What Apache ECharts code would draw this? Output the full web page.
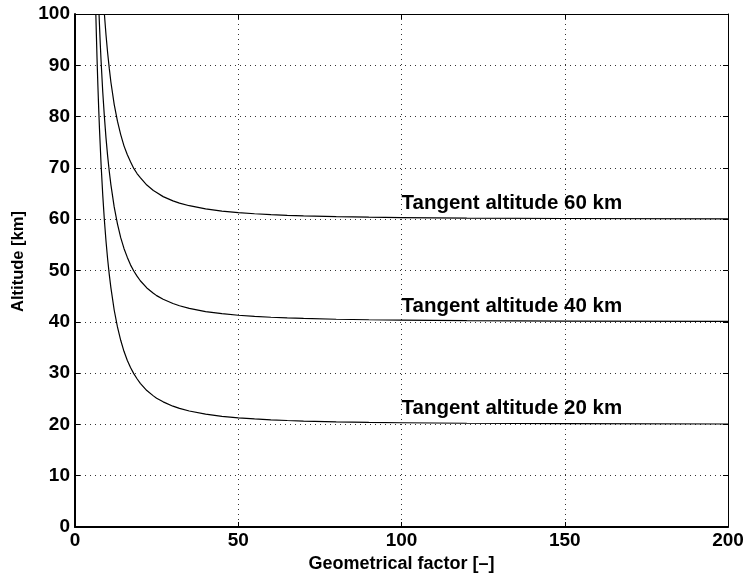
<!DOCTYPE html>
<html>
<head>
<meta charset="utf-8">
<script src="https://cdn.jsdelivr.net/npm/echarts@6/dist/echarts.min.js"></script>
<style>
html,body{margin:0;padding:0;background:#fff;}
#chart{width:747px;height:583px;}
</style>
</head>
<body>
<div id="chart"></div>
<script>
// Data
var xTicks = [0, 50, 100, 150, 200];
var yTicks = [0, 10, 20, 30, 40, 50, 60, 70, 80, 90, 100];

var factor20 = [6.38, 6.5, 6.75, 7, 7.25, 7.5, 8, 8.5, 9, 9.5, 10, 10.5, 11, 12, 13, 14, 15, 16, 17, 18, 19, 20, 22, 24, 25, 27, 30, 32, 35, 40, 45, 50, 55, 60, 65, 70, 80, 90, 100, 120, 150, 200];
var alt20    = [100, 97.0, 91.3, 86.2, 81.7, 77.6, 70.5, 64.7, 59.8, 55.7, 52.2, 49.2, 46.6, 42.3, 39.0, 36.4, 34.25, 32.5, 31.1, 29.9, 28.9, 28.0, 26.6, 25.56, 25.1, 24.4, 23.55, 23.12, 22.61, 22.0, 21.58, 21.28, 21.06, 20.89, 20.76, 20.65, 20.5, 20.39, 20.32, 20.22, 20.14, 20.08];

var factor40 = [7.36, 7.5, 7.75, 8, 8.5, 9, 9.5, 10, 10.5, 11, 12, 13, 14, 15, 16, 17, 18, 19, 20, 22, 24, 25, 27, 30, 32, 35, 40, 45, 50, 55, 60, 65, 70, 80, 90, 100, 120, 150, 200];
var alt40    = [100, 97.8, 94.0, 90.7, 84.8, 80.0, 75.8, 72.3, 69.3, 66.7, 62.4, 59.1, 56.4, 54.3, 52.6, 51.1, 49.9, 48.9, 48.0, 46.6, 45.57, 45.1, 44.4, 43.56, 43.13, 42.62, 42.0, 41.58, 41.28, 41.06, 40.89, 40.76, 40.65, 40.5, 40.4, 40.32, 40.22, 40.14, 40.08];

var factor60 = [9.0, 9.5, 10, 10.5, 11, 12, 13, 14, 15, 16, 17, 18, 19, 20, 22, 24, 25, 27, 30, 32, 35, 40, 45, 50, 55, 60, 65, 70, 80, 90, 100, 120, 150, 200];
var alt60    = [100, 95.9, 92.4, 89.4, 86.7, 82.4, 79.1, 76.5, 74.3, 72.6, 71.2, 69.9, 68.9, 68.1, 66.65, 65.6, 65.2, 64.4, 63.58, 63.14, 62.63, 62.01, 61.59, 61.29, 61.06, 60.89, 60.76, 60.66, 60.5, 60.4, 60.32, 60.22, 60.14, 60.08];

var labelTexts = ['Tangent altitude 60 km', 'Tangent altitude 40 km', 'Tangent altitude 20 km'];
var labelX = [100, 100, 100];
var labelY = [63.1, 43.1, 23.1];

function pairs(xs, ys) {
  var out = [];
  for (var i = 0; i < xs.length; i++) out.push([xs[i], ys[i]]);
  return out;
}

var FONT = 'Liberation Sans';
var chart = echarts.init(document.getElementById('chart'), null, {renderer: 'canvas'});

var gridLine = {show: true, lineStyle: {color: '#333', width: 1, type: [1, 4]}};
var tickStyle = {show: true, inside: true, length: 5, lineStyle: {color: '#000', width: 1}};

function curve(xs, ys) {
  return {
    type: 'line',
    xAxisIndex: 0, yAxisIndex: 0,
    data: pairs(xs, ys),
    showSymbol: false,
    smooth: false,
    lineStyle: {color: '#000', width: 1.2},
    silent: true,
    z: 5
  };
}

var labelData = [];
for (var i = 0; i < labelTexts.length; i++) {
  labelData.push({value: [labelX[i], labelY[i]], name: labelTexts[i]});
}

chart.setOption({
  animation: false,
  backgroundColor: '#fff',
  grid: {left: 75, right: 19, top: 14, bottom: 56, containLabel: false},
  xAxis: [{
    type: 'value', min: 0, max: 200, interval: 50,
    name: 'Geometrical factor [\u2013]',
    nameLocation: 'middle', nameGap: 25,
    nameTextStyle: {fontFamily: FONT, fontWeight: 'bold', fontSize: 18, color: '#000'},
    axisLine: {show: true, onZero: false, lineStyle: {color: '#000', width: 2}},
    axisTick: tickStyle,
    axisLabel: {fontFamily: FONT, fontWeight: 'bold', fontSize: 19, color: '#000', margin: 4,
      formatter: function (v) { return xTicks.indexOf(v) >= 0 ? String(v) : ''; }},
    splitLine: gridLine
  }, {
    type: 'value', min: 0, max: 200, interval: 50, position: 'top',
    axisLine: {show: true, onZero: false, lineStyle: {color: '#000', width: 1}},
    axisTick: tickStyle, axisLabel: {show: false}, splitLine: {show: false}
  }],
  yAxis: [{
    type: 'value', min: 0, max: 100, interval: 10,
    name: 'Altitude [km]',
    nameLocation: 'middle', nameGap: 34, nameRotate: 90,
    nameTextStyle: {fontFamily: FONT, fontWeight: 'bold', fontSize: 16.5, color: '#000', padding: [0, 0, 0, 18]},
    axisLine: {show: true, onZero: false, lineStyle: {color: '#000', width: 2}},
    axisTick: tickStyle,
    axisLabel: {fontFamily: FONT, fontWeight: 'bold', fontSize: 19, color: '#000', margin: 5,
      formatter: function (v) { return yTicks.indexOf(v) >= 0 ? String(v) : ''; }},
    splitLine: gridLine
  }, {
    type: 'value', min: 0, max: 100, interval: 10, position: 'right',
    axisLine: {show: true, onZero: false, lineStyle: {color: '#000', width: 1}},
    axisTick: tickStyle, axisLabel: {show: false}, splitLine: {show: false}
  }],
  series: [
    curve(factor20, alt20),
    curve(factor40, alt40),
    curve(factor60, alt60),
    {
      type: 'scatter',
      xAxisIndex: 0, yAxisIndex: 0,
      symbolSize: 0,
      itemStyle: {opacity: 1},
      data: labelData,
      silent: true,
      z: 6,
      label: {
        show: true, position: 'right', distance: 0, opacity: 1,
        formatter: function (p) { return p.name; },
        fontFamily: FONT, fontWeight: 'bold', fontSize: 20.5, color: '#000'
      }
    }
  ]
});
</script>
</body>
</html>
